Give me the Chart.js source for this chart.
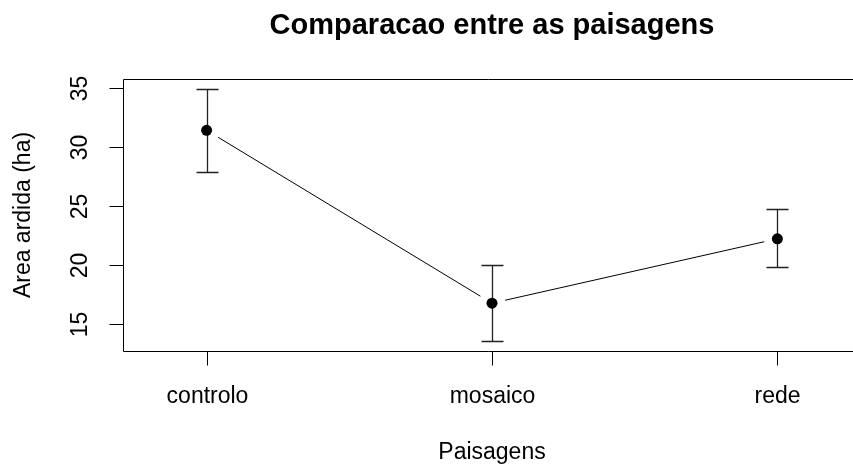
<!DOCTYPE html>
<html>
<head>
<meta charset="utf-8">
<script src="https://cdn.jsdelivr.net/npm/chart.js@4.4.1/dist/chart.umd.min.js"></script>
<style>
  html, body { margin: 0; padding: 0; background: #fff; }
  #wrap { width: 853px; height: 472px; }
</style>
</head>
<body>
<div id="wrap"><canvas id="plot"></canvas></div>
<script>
const categories = ['controlo', 'mosaico', 'rede'];
const means = [31.38, 16.76, 22.21];
const upper = [34.86, 20.0, 24.76];
const lower = [27.84, 13.58, 19.81];
const yTicks = [15, 20, 25, 30, 35];

const titleText = 'Comparacao entre as paisagens';
const xTitle = 'Paisagens';
const yTitle = 'Area ardida (ha)';

const FONT = '"Liberation Sans", Arial, sans-serif';

// R style axes, error bars and "type = b" line with gaps round the points
const rPlot = {
    id: 'rPlot',
    beforeDatasetsDraw(chart) {
        const ctx = chart.ctx;
        const xs = chart.scales.x;
        const ys = chart.scales.y;
        ctx.save();

        // connecting line, broken near each point
        const gap = 13.5;
        ctx.strokeStyle = '#000';
        ctx.lineWidth = 1;
        for (let i = 0; i < means.length - 1; i++) {
            const x0 = xs.getPixelForValue(i), y0 = ys.getPixelForValue(means[i]);
            const x1 = xs.getPixelForValue(i + 1), y1 = ys.getPixelForValue(means[i + 1]);
            const len = Math.hypot(x1 - x0, y1 - y0);
            const ux = (x1 - x0) / len, uy = (y1 - y0) / len;
            ctx.beginPath();
            ctx.moveTo(x0 + ux * gap, y0 + uy * gap);
            ctx.lineTo(x1 - ux * gap, y1 - uy * gap);
            ctx.stroke();
        }

        // error bars
        ctx.strokeStyle = '#222';
        ctx.lineWidth = 1.3;
        const cap = 11;
        categories.forEach((c, i) => {
            const x = Math.round(xs.getPixelForValue(i)) + 0.5;
            const yt = Math.round(ys.getPixelForValue(upper[i])) + 0.5;
            const yb = Math.round(ys.getPixelForValue(lower[i])) + 0.5;
            ctx.beginPath();
            ctx.moveTo(x, yt); ctx.lineTo(x, yb);
            ctx.moveTo(x - cap, yt); ctx.lineTo(x + cap, yt);
            ctx.moveTo(x - cap, yb); ctx.lineTo(x + cap, yb);
            ctx.stroke();
        });
        ctx.restore();
    },
    afterDraw(chart) {
        const ctx = chart.ctx;
        const ca = chart.chartArea;
        const xs = chart.scales.x;
        const ys = chart.scales.y;
        ctx.save();
        ctx.strokeStyle = '#000';
        ctx.fillStyle = '#000';
        ctx.lineWidth = 1;

        // box (right side falls outside the canvas, like the original)
        const L = Math.round(ca.left) + 0.5, T = Math.round(ca.top) + 0.5, B = Math.round(ca.bottom) + 0.5;
        ctx.beginPath();
        ctx.moveTo(ca.right + 10, T); ctx.lineTo(L, T); ctx.lineTo(L, B); ctx.lineTo(ca.right + 10, B);
        ctx.stroke();

        // y ticks + rotated labels
        ctx.font = '23px ' + FONT;
        ctx.textAlign = 'center';
        ctx.textBaseline = 'middle';
        yTicks.forEach(v => {
            const y = Math.round(ys.getPixelForValue(v)) + 0.5;
            ctx.beginPath();
            ctx.moveTo(L, y); ctx.lineTo(L - 14, y);
            ctx.stroke();
            ctx.save();
            ctx.translate(80, y);
            ctx.rotate(-Math.PI / 2);
            ctx.fillText(String(v), 0, 1);
            ctx.restore();
        });

        // x ticks + labels
        categories.forEach((c, i) => {
            const x = Math.round(xs.getPixelForValue(i)) + 0.5;
            ctx.beginPath();
            ctx.moveTo(x, B); ctx.lineTo(x, B + 14);
            ctx.stroke();
            ctx.fillText(c, x, 397);
        });

        // axis titles
        const xMid = xs.getPixelForValue(1);
        ctx.fillText(xTitle, xMid, 453);
        ctx.save();
        ctx.translate(24, (ca.top + ca.bottom) / 2);
        ctx.rotate(-Math.PI / 2);
        ctx.fillText(yTitle, 0, 0);
        ctx.restore();

        // main title
        ctx.font = 'bold 29px ' + FONT;
        ctx.fillText(titleText, xMid, 26);
        ctx.restore();
    }
};

new Chart(document.getElementById('plot').getContext('2d'), {
    type: 'line',
    data: {
        datasets: [{
            data: means.map((m, i) => ({ x: i, y: m })),
            showLine: false,
            pointRadius: 5.5,
            pointHoverRadius: 5.5,
            pointBackgroundColor: '#000',
            pointBorderColor: '#000',
            pointBorderWidth: 0
        }]
    },
    options: {
        responsive: true,
        maintainAspectRatio: false,
        animation: false,
        events: [],
        layout: { autoPadding: false, padding: { top: 79, right: 0, left: 0, bottom: 0 } },
        plugins: {
            legend: { display: false },
            title: { display: false },
            tooltip: { enabled: false }
        },
        scales: {
            x: {
                type: 'linear',
                min: -0.293,
                max: 2.265,
                grid: { display: false },
                border: { display: false },
                ticks: { display: false },
                afterFit: s => { s.height = 121; }
            },
            y: {
                type: 'linear',
                min: 12.72,
                max: 35.72,
                grid: { display: false },
                border: { display: false },
                ticks: { display: false },
                afterFit: s => { s.width = 123; }
            }
        }
    },
    plugins: [rPlot]
});
</script>
</body>
</html>
